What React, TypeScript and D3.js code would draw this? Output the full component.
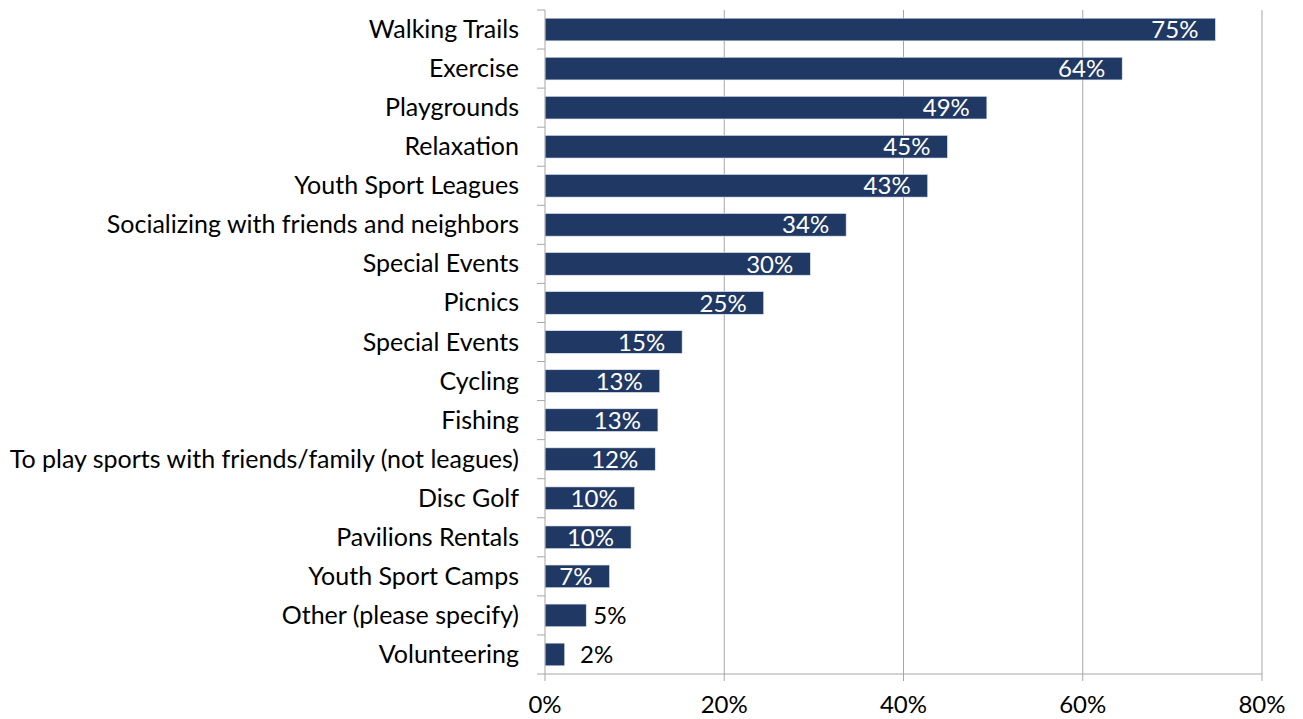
import React from "react";
import * as d3 from "d3";

const categories = [
  "Walking Trails",
  "Exercise",
  "Playgrounds",
  "Relaxation",
  "Youth Sport Leagues",
  "Socializing with friends and neighbors",
  "Special Events",
  "Picnics",
  "Special Events ",
  "Cycling",
  "Fishing",
  "To play sports with friends/family (not leagues)",
  "Disc Golf",
  "Pavilions Rentals",
  "Youth Sport Camps",
  "Other (please specify)",
  "Volunteering",
];
const values = [74.8, 64.4, 49.3, 44.9, 42.7, 33.6, 29.6, 24.4, 15.3, 12.8, 12.6, 12.3, 10.0, 9.6, 7.2, 4.6, 2.2];
const labels = ["75%", "64%", "49%", "45%", "43%", "34%", "30%", "25%", "15%", "13%", "13%", "12%", "10%", "10%", "7%", "5%", "2%"];
const xTicks = [0, 20, 40, 60, 80];

const W = 1303;
const H = 719;
const left = 545;
const right = 1262;
const top = 10;
const bottom = 674;
const FONT = "Lato, 'Open Sans', sans-serif";
const BAR = "#203864";
const GRID = "#a6a6a6";

export default function App() {
  const x = d3.scaleLinear().domain([0, 80]).range([left, right]);
  const y = d3.scaleBand().domain(categories.map((c, i) => String(i))).range([top, bottom]).paddingInner(0.42).paddingOuter(0.21);
  const band = (bottom - top) / categories.length;
  return (
    <svg width={W} height={H} style={{ position: "absolute", left: 0, top: 0, background: "#fff" }}>
      {xTicks.slice(1).map((t) => (
        <line key={"g" + t} x1={x(t)} x2={x(t)} y1={top} y2={bottom} stroke={GRID} strokeWidth={1} />
      ))}
      {values.map((v, i) => {
        const yy = y(String(i))!;
        const bw = x(v) - x(0);
        const inside = v >= 6;
        const lx = inside ? x(v) - 17 : Math.max(x(v) + 7, x(0) + 35);
        return (
          <g key={i}>
            <rect x={x(0)} y={yy} width={bw} height={y.bandwidth()} fill={BAR} stroke="#dfe6f0" strokeWidth={0.6} />
            <text
              x={lx}
              y={yy + y.bandwidth() / 2}
              dy="0.36em"
              textAnchor={inside ? "end" : "start"}
              fill={inside ? "#ffffff" : "#000000"}
              fontFamily={FONT}
              fontSize={24}
            >
              {labels[i]}
            </text>
            <text
              x={519}
              y={yy + y.bandwidth() / 2}
              dy="0.34em"
              textAnchor="end"
              fill="#000"
              fontFamily={FONT}
              fontSize={25}
            >
              {categories[i].trim()}
            </text>
          </g>
        );
      })}
      <line x1={left} x2={left} y1={top} y2={bottom} stroke={GRID} strokeWidth={1} />
      {d3.range(categories.length + 1).map((k) => (
        <line key={"yt" + k} x1={left - 8} x2={left} y1={top + k * band} y2={top + k * band} stroke={GRID} strokeWidth={1} />
      ))}
      <line x1={left} x2={right} y1={bottom} y2={bottom} stroke={GRID} strokeWidth={1} />
      {xTicks.map((t) => (
        <g key={"xt" + t}>
          <line x1={x(t)} x2={x(t)} y1={bottom} y2={bottom + 7} stroke={GRID} strokeWidth={1} />
          <text x={x(t)} y={704} dy="0.36em" textAnchor="middle" fontFamily={FONT} fontSize={24} fill="#000">
            {t + "%"}
          </text>
        </g>
      ))}
    </svg>
  );
}
